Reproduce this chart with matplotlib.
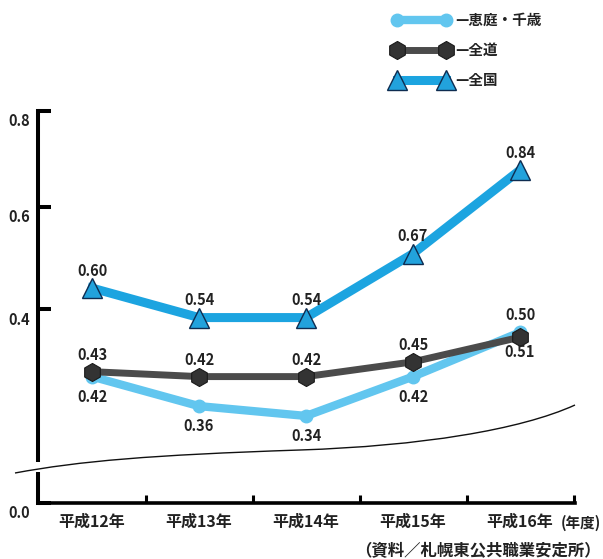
import matplotlib
matplotlib.use("Agg")
import matplotlib.pyplot as plt
from matplotlib.path import Path
from matplotlib.patches import PathPatch, Rectangle
from matplotlib.transforms import ScaledTranslation

plt.rcParams['font.family'] = ['Noto Sans CJK JP', 'DejaVu Sans']

# ---- data ----
years = ["平成12年", "平成13年", "平成14年", "平成15年", "平成16年"]
eniwa_chitose = [0.42, 0.36, 0.34, 0.42, 0.51]
zendo = [0.43, 0.42, 0.42, 0.45, 0.50]
zenkoku = [0.60, 0.54, 0.54, 0.67, 0.84]
series_names = ["—恵庭・千歳", "—全道", "—全国"]
ytick_labels = ["0.0", "0.4", "0.6", "0.8"]
ytick_pos = [0.163, 0.557, 0.765, 0.960]   # where the printed labels sit on the value scale
unit_label = "(年度)"
source_label = "（資料／札幌東公共職業安定所）"

W, H = 603, 559
fig = plt.figure(figsize=(W / 100, H / 100), dpi=100)
ax = fig.add_axes([38 / W, 1 - 503 / H, (575 - 38) / W, (503 - 111) / H])

x = list(range(len(years)))

c_light = "#62c6ef"
c_dark = "#4b4b4b"
c_blue = "#1ca4e0"

l1, = ax.plot(x, eniwa_chitose, color=c_light, lw=6.0, marker='o', ms=9,
              mfc=c_light, mec=c_light, zorder=2, solid_capstyle='round')
l2, = ax.plot(x, zendo, color=c_dark, lw=5.0, marker='h', ms=13,
              mfc="#333333", mec="#1a1a1a", mew=0.8, zorder=3)
l3, = ax.plot(x, zenkoku, color=c_blue, lw=6.5, marker='^', ms=15,
              mfc="#22a2dc", mec="#0e2c50", mew=1.0, zorder=4)

lab_kw = dict(ha='center', va='center', fontsize=10.5, fontweight='bold',
              color='#222222', textcoords='offset points', zorder=6)
for xi, v in zip(x, zenkoku):
    ax.annotate(f"{v:.2f}", (xi, v), xytext=(0, 12.5), **lab_kw)
for xi, v in zip(x, zendo):
    off = 12 if xi < 4 else 16
    ax.annotate(f"{v:.2f}", (xi, v), xytext=(0, off), **lab_kw)
for xi, v in zip(x, eniwa_chitose):
    ax.annotate(f"{v:.2f}", (xi, v), xytext=(0, -14.5), **lab_kw)

ax.set_xlim(-0.505, 4.514)
ax.set_ylim(0.163, 0.960)

for s in ['top', 'right']:
    ax.spines[s].set_visible(False)
ax.spines['left'].set_linewidth(2.9)
ax.spines['bottom'].set_linewidth(2.6)
ax.spines['left'].set_capstyle('projecting')
ax.spines['bottom'].set_capstyle('projecting')

ax.set_yticks(ytick_pos, ytick_labels)
ax.tick_params(axis='y', direction='in', length=9, width=2.9, pad=6,
               labelsize=10.5)
for lbl in ax.get_yticklabels():
    lbl.set_fontweight('bold')
    lbl.set_color('#222222')
    lbl.set_transform(lbl.get_transform() + ScaledTranslation(0, -0.09, fig.dpi_scale_trans))

ax.set_xticks([i + 0.5 for i in x])
ax.set_xticklabels([])
ax.tick_params(axis='x', which='major', direction='in', length=6, width=2.2)
ax.set_xticks(x, minor=True)
ax.set_xticklabels(years, minor=True, fontsize=11.5, fontweight='bold', color='#222222')
ax.tick_params(axis='x', which='minor', length=0, pad=8)

fig.text(561 / W, 1 - 523 / H, unit_label, ha='left', va='center',
         fontsize=10.5, fontweight='bold', color='#222222')
fig.text(601 / W, 1 - 551 / H, source_label, ha='right', va='center',
         fontsize=11.8, fontweight='bold', color='#222222')

# ---- axis break decoration ----
def fp(px, py):
    return (px / W, 1 - py / H)

gap = Rectangle(fp(33, 472), 10 / W, 10 / H, transform=fig.transFigure,
                facecolor='white', edgecolor='none', zorder=10)
fig.add_artist(gap)
verts = [fp(15, 473), fp(80, 461), fp(150, 455), fp(300, 450),
         fp(420, 446), fp(520, 430), fp(575, 405)]
codes = [Path.MOVETO, Path.CURVE4, Path.CURVE4, Path.CURVE4,
         Path.CURVE4, Path.CURVE4, Path.CURVE4]
curve = PathPatch(Path(verts, codes), transform=fig.transFigure,
                  facecolor='none', edgecolor='#111111', lw=1.0, zorder=11)
fig.add_artist(curve)

# ---- legend ----
leg = fig.legend([l1, l2, l3], series_names, loc='upper left',
                 bbox_to_anchor=(393 / W, 1 - 12 / H), frameon=False,
                 numpoints=2, handlelength=3.9, handletextpad=0.35,
                 labelspacing=0.95, borderpad=0, borderaxespad=0,
                 prop={'size': 10.5, 'weight': 'bold'})
for t in leg.get_texts():
    t.set_color('#222222')

fig.savefig("out.png", dpi=100)
